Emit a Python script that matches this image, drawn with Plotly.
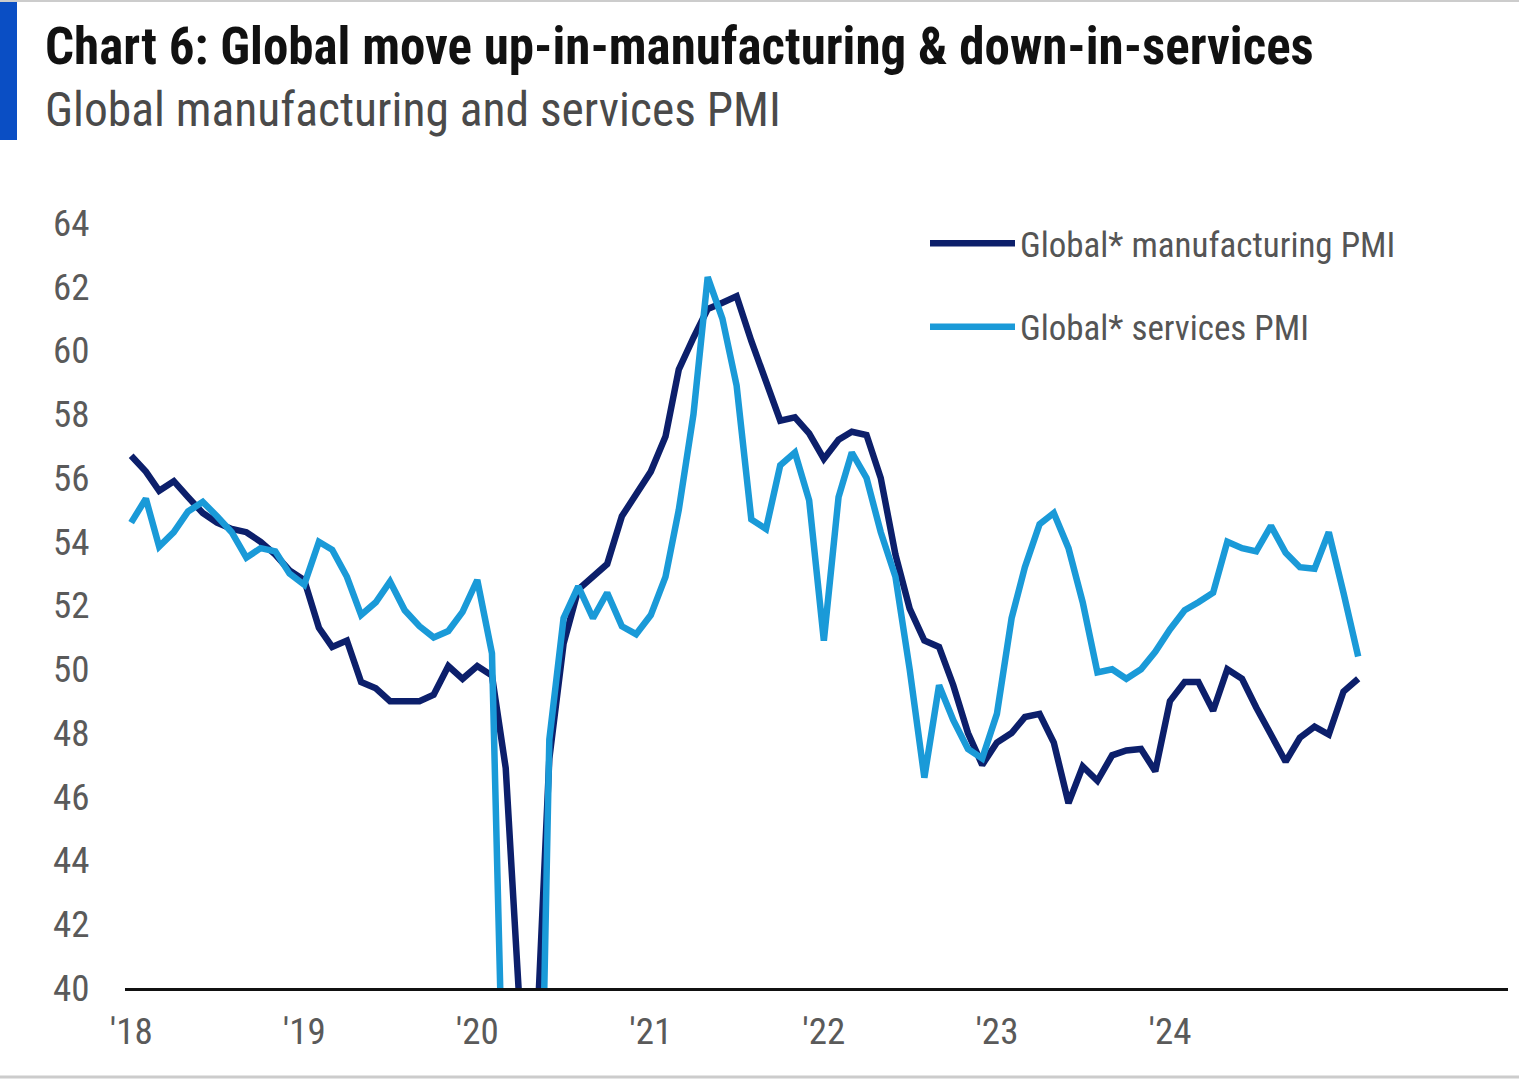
import pandas as pd
import plotly.graph_objects as go

# ---------------- data ----------------
months = pd.date_range("2018-01-01", periods=86, freq="MS")

manufacturing_pmi = [
    56.7, 56.2, 55.6, 55.9, 55.4, 54.9, 54.6, 54.4, 54.3, 54.0, 53.6, 53.1,   # 2018
    52.8, 51.3, 50.7, 50.9, 49.6, 49.4, 49.0, 49.0, 49.0, 49.2, 50.1, 49.7,   # 2019
    50.1, 49.8, 46.9, 39.0, 37.0, 47.2, 50.8, 52.5, 52.9, 53.3, 54.8, 55.5,   # 2020
    56.2, 57.3, 59.4, 60.4, 61.3, 61.5, 61.7, 60.3, 59.0, 57.8, 57.9, 57.4,   # 2021
    56.6, 57.2, 57.45, 57.35, 56.0, 53.6, 51.9, 50.9, 50.7, 49.5, 48.0, 47.0, # 2022
    47.7, 48.0, 48.5, 48.6, 47.7, 45.8, 46.95, 46.5, 47.3, 47.45, 47.5, 46.8, # 2023
    49.0, 49.6, 49.6, 48.7, 50.0, 49.7, 48.8, 48.0, 47.1, 47.85, 48.2, 47.95, # 2024
    49.3, 49.7,                                                               # 2025
]

services_pmi = [
    54.6, 55.35, 53.85, 54.3, 54.95, 55.25, 54.8, 54.3, 53.5, 53.8, 53.7, 53.0, # 2018
    52.65, 54.0, 53.75, 52.9, 51.7, 52.1, 52.75, 51.85, 51.35, 51.0, 51.2, 51.8, # 2019
    52.8, 50.5, 33.0, 24.0, 25.0, 47.8, 51.6, 52.6, 51.6, 52.4, 51.35, 51.1,    # 2020
    51.7, 52.9, 55.0, 58.0, 62.3, 61.0, 58.9, 54.7, 54.4, 56.4, 56.8, 55.3,     # 2021
    50.9, 55.4, 56.8, 56.0, 54.3, 52.9, 50.0, 46.6, 49.5, 48.4, 47.5, 47.2,     # 2022
    48.6, 51.6, 53.2, 54.55, 54.9, 53.8, 52.1, 49.9, 50.0, 49.7, 50.0, 50.55,   # 2023
    51.25, 51.85, 52.1, 52.4, 54.0, 53.8, 53.7, 54.5, 53.65, 53.2, 53.15, 54.3, # 2024
    52.4, 50.4,                                                                 # 2025
]

x_tick_dates = ["2018-01-01", "2019-01-01", "2020-01-01", "2021-01-01",
                "2022-01-01", "2023-01-01", "2024-01-01"]
x_tick_labels = ["'18", "'19", "'20", "'21", "'22", "'23", "'24"]
y_tick_values = [40, 42, 44, 46, 48, 50, 52, 54, 56, 58, 60, 62, 64]

series_names = ["Global* manufacturing PMI", "Global* services PMI"]
title_text = "Chart 6: Global move up-in-manufacturing & down-in-services"
subtitle_text = "Global manufacturing and services PMI"

# ---------------- styling ----------------
FONT = "Liberation Sans Narrow, Arial Narrow, Roboto Condensed, sans-serif"
DARK = "#0c1f6b"
LIGHT = "#1a9ad8"

W, H = 1519, 1080
L, R, T, B = 125, 11, 223, 92
PW, PH = W - L - R, H - T - B


def px(xp):
    return (xp - L) / PW


def py(yp):
    return (H - B - yp) / PH


fig = go.Figure()
fig.add_trace(go.Scatter(x=months, y=manufacturing_pmi, mode="lines",
                         name=series_names[0], legendgroup="m",
                         line=dict(color=DARK, width=6.5)))
fig.add_trace(go.Scatter(x=months, y=services_pmi, mode="lines",
                         name=series_names[1], legendgroup="s",
                         line=dict(color=LIGHT, width=6.5)))

fig.update_layout(
    width=W, height=H,
    margin=dict(l=L, r=R, t=T, b=B),
    paper_bgcolor="white", plot_bgcolor="white",
    font=dict(family=FONT, color="#555555"),
    showlegend=True,
    legend=dict(x=px(925), y=py(214), xanchor="left", yanchor="top",
                font=dict(size=35, family=FONT, color="#555555"),
                itemwidth=85, tracegroupgap=35,
                bgcolor="rgba(0,0,0,0)", borderwidth=0),
    xaxis=dict(range=["2017-12-19", "2025-12-14"], type="date",
               tickvals=x_tick_dates, ticktext=x_tick_labels,
               showgrid=False, zeroline=False,
               showline=True, linecolor="#111111", linewidth=3,
               ticks="outside", ticklen=9, tickcolor="rgba(0,0,0,0)",
               tickfont=dict(size=37, family=FONT, color="#5a5a5a")),
    yaxis=dict(range=[40, 64], tickvals=y_tick_values,
               showgrid=False, zeroline=False, showline=False,
               ticks="outside", ticklen=27, tickcolor="rgba(0,0,0,0)",
               tickfont=dict(size=37, family=FONT, color="#5a5a5a")),
    annotations=[
        dict(text="<b>" + title_text + "</b>", xref="paper", yref="paper",
             x=px(43), y=py(47), xanchor="left", yanchor="middle",
             showarrow=False, font=dict(size=51, family=FONT, color="#111111")),
        dict(text=subtitle_text, xref="paper", yref="paper",
             x=px(43), y=py(110), xanchor="left", yanchor="middle",
             showarrow=False, font=dict(size=47.5, family=FONT, color="#4a4a4a")),
    ],
    shapes=[
        dict(type="rect", xref="paper", yref="paper",
             x0=px(0), x1=px(17), y0=py(140), y1=py(0),
             fillcolor="#0a4ec4", line=dict(width=0), layer="above"),
        dict(type="line", xref="paper", yref="paper",
             x0=px(0), x1=px(W), y0=py(1), y1=py(1),
             line=dict(color="#cccccc", width=2)),
        dict(type="line", xref="paper", yref="paper",
             x0=px(0), x1=px(W), y0=py(1077), y1=py(1077),
             line=dict(color="#cccccc", width=3)),
    ],
)

fig.write_html("out.html", config={"displayModeBar": False},
               post_script="document.body.style.margin='0';")
